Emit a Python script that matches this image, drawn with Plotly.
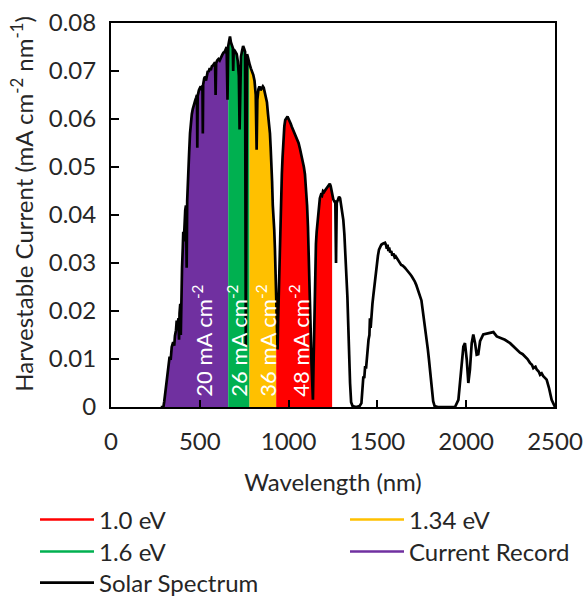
import numpy as np
import plotly.graph_objects as go

# Harvestable current from the AM1.5G solar spectrum (mA cm^-2 nm^-1)
wavelength_nm = [
    280, 295, 300, 305, 313, 318, 323, 330, 336, 342, 350, 356, 360, 366, 370, 375,
    380, 383, 386, 390, 393, 395, 397, 400, 404, 407, 410, 414, 418, 422, 426, 429,
    432, 436, 440, 445, 450, 455, 460, 465, 470, 475, 480, 484, 486, 488, 495, 500,
    505, 510, 515, 517, 519, 525, 530, 535, 540, 545, 550, 556, 562, 568, 575, 580,
    586, 589, 592, 598, 605, 612, 620, 627, 633, 640, 646, 651, 656, 660, 665, 670,
    675, 680, 686, 688, 691, 697, 702, 708, 714, 720, 724, 727, 732, 738, 744, 750,
    755, 759, 762, 766, 770, 776, 782, 788, 795, 801, 808, 815, 820, 824, 830, 836,
    842, 848, 855, 860, 866, 872, 878, 884, 890, 895, 899, 903, 907, 911, 915, 919,
    923, 927, 931, 935, 938, 941, 944, 947, 951, 955, 958, 962, 966, 971, 976, 981,
    988, 994, 1000, 1006, 1012, 1018, 1025, 1032, 1040, 1048, 1056, 1064, 1072, 1080,
    1086, 1092, 1098, 1104, 1109, 1113, 1117, 1121, 1125, 1129, 1133, 1137, 1140,
    1143, 1146, 1150, 1154, 1158, 1162, 1166, 1171, 1176, 1182, 1188, 1194, 1200,
    1207, 1214, 1220, 1226, 1232, 1237, 1242, 1247, 1252, 1258, 1263, 1267, 1271,
    1278, 1284, 1290, 1296, 1302, 1308, 1314, 1320, 1326, 1331, 1336, 1341, 1346,
    1352, 1360, 1380, 1400, 1410, 1416, 1421, 1426, 1431, 1436, 1441, 1446, 1450,
    1455, 1458, 1462, 1467, 1472, 1477, 1482, 1487, 1492, 1497, 1503, 1509, 1515,
    1522, 1530, 1537, 1543, 1548, 1553, 1557, 1562, 1566, 1572, 1578, 1584, 1590,
    1597, 1603, 1609, 1615, 1621, 1627, 1634, 1641, 1648, 1655, 1662, 1670, 1678,
    1686, 1694, 1702, 1710, 1718, 1726, 1734, 1742, 1748, 1754, 1760, 1766, 1772,
    1778, 1784, 1790, 1796, 1802, 1808, 1814, 1822, 1840, 1900, 1937, 1956, 1969,
    1984, 1993, 2003, 2012, 2021, 2031, 2040, 2050, 2059, 2068, 2078, 2096, 2124,
    2153, 2172, 2190, 2218, 2247, 2275, 2303, 2318, 2331, 2345, 2359, 2370, 2378,
    2390, 2397, 2408, 2416, 2425, 2434, 2445, 2453, 2466, 2481, 2500,
]
current = [
    0.0, 0.0, 0.0012, 0.0030, 0.0045, 0.0070, 0.0092, 0.0105, 0.0098, 0.0125, 0.0135,
    0.0128, 0.0148, 0.0160, 0.0180, 0.0172, 0.0185, 0.0140, 0.0195, 0.0215, 0.0150,
    0.0240, 0.0160, 0.0290, 0.0330, 0.0365, 0.0345, 0.0390, 0.0410, 0.0420, 0.0290,
    0.0430, 0.0470, 0.0500, 0.0530, 0.0570, 0.0595, 0.0610, 0.0620, 0.0628, 0.0630,
    0.0640, 0.0645, 0.0650, 0.0540, 0.0648, 0.0660, 0.0665, 0.0668, 0.0660, 0.0670,
    0.0570, 0.0672, 0.0685, 0.0688, 0.0680, 0.0695, 0.0700, 0.0698, 0.0706, 0.0702,
    0.0710, 0.0712, 0.0715, 0.0718, 0.0650, 0.0716, 0.0722, 0.0725, 0.0722, 0.0730,
    0.0734, 0.0738, 0.0740, 0.0745, 0.0750, 0.0640, 0.0752, 0.0762, 0.0772, 0.0760,
    0.0752, 0.0748, 0.0700, 0.0745, 0.0742, 0.0738, 0.0735, 0.0720, 0.0690, 0.0578,
    0.0700, 0.0730, 0.0742, 0.0752, 0.0746, 0.0740, 0.0126, 0.0700, 0.0735, 0.0730,
    0.0718, 0.0712, 0.0705, 0.0698, 0.0692, 0.0680, 0.0650, 0.0536, 0.0640, 0.0662,
    0.0668, 0.0660, 0.0665, 0.0668, 0.0665, 0.0655, 0.0645, 0.0635, 0.0610, 0.0590,
    0.0570, 0.0540, 0.0515, 0.0470, 0.0420, 0.0400, 0.0370, 0.0330, 0.0280, 0.0220,
    0.0160, 0.0120, 0.0180, 0.0230, 0.0280, 0.0334, 0.0390, 0.0440, 0.0485, 0.0520,
    0.0560, 0.0585, 0.0598, 0.0602, 0.0605, 0.0600, 0.0596, 0.0590, 0.0584, 0.0578,
    0.0572, 0.0565, 0.0558, 0.0550, 0.0538, 0.0525, 0.0510, 0.0500, 0.0485, 0.0460,
    0.0420, 0.0375, 0.0330, 0.0270, 0.0215, 0.0150, 0.0090, 0.0040, 0.0015, 0.0080,
    0.0160, 0.0230, 0.0300, 0.0340, 0.0365, 0.0385, 0.0400, 0.0420, 0.0435, 0.0442,
    0.0440, 0.0450, 0.0448, 0.0452, 0.0455, 0.0458, 0.0462, 0.0465, 0.0460, 0.0450,
    0.0440, 0.0432, 0.0428, 0.0430, 0.0300, 0.0425, 0.0432, 0.0438, 0.0435, 0.0420,
    0.0405, 0.0390, 0.0360, 0.0320, 0.0290, 0.0230, 0.0170, 0.0100, 0.0050, 0.0010,
    0.0002, 0.0, 0.0002, 0.0008, 0.0035, 0.0064, 0.0060, 0.0085, 0.0080, 0.0110,
    0.0120, 0.0140, 0.0150, 0.0185, 0.0165, 0.0200, 0.0215, 0.0232, 0.0250, 0.0265,
    0.0282, 0.0300, 0.0315, 0.0328, 0.0334, 0.0338, 0.0340, 0.0342, 0.0342, 0.0338,
    0.0330, 0.0338, 0.0325, 0.0332, 0.0322, 0.0325, 0.0315, 0.0320, 0.0312, 0.0314,
    0.0310, 0.0306, 0.0302, 0.0300, 0.0296, 0.0295, 0.0293, 0.0290, 0.0287, 0.0284,
    0.0280, 0.0276, 0.0272, 0.0268, 0.0262, 0.0255, 0.0247, 0.0238, 0.0230, 0.0222,
    0.0205, 0.0190, 0.0172, 0.0155, 0.0138, 0.0120, 0.0100, 0.0078, 0.0055, 0.0030,
    0.0012, 0.0002, 0.0, 0.0, 0.0, 0.0015, 0.0071, 0.0126, 0.0133, 0.0099, 0.0050,
    0.0078, 0.0133, 0.0151, 0.0133, 0.0109, 0.0110, 0.0137, 0.0151, 0.0154, 0.0156,
    0.0147, 0.0144, 0.0140, 0.0133, 0.0123, 0.0113, 0.0110, 0.0106, 0.0100, 0.0092,
    0.0088, 0.0081, 0.0084, 0.0078, 0.0074, 0.0067, 0.0070, 0.0064, 0.0060, 0.0057,
    0.0040, 0.0015, 0.0,
]

# Absorber bands: short- and long-wavelength edges and colours
band_names = ["Current Record", "1.6 eV", "1.34 eV", "1.0 eV"]
band_lo = [280, 660, 780, 930]
band_hi = [660, 780, 930, 1245]
band_colors = ["#7030A0", "#00B050", "#FFC000", "#FF0000"]

# In-band current labels
label_text = ["20 mA cm<sup>-2</sup>", "26 mA cm<sup>-2</sup>",
              "36 mA cm<sup>-2</sup>", "48 mA cm<sup>-2</sup>"]
label_x = [518, 715, 878, 1064]

# Legend entries in reading order (two columns, three rows)
legend_names = ["1.0 eV", "1.34 eV", "1.6 eV", "Current Record", "Solar Spectrum"]
legend_colors = ["#FF0000", "#FFC000", "#00B050", "#7030A0", "black"]
legend_col = [0, 1, 0, 1, 0]
legend_row = [0, 0, 1, 1, 2]

FONT = "Lato, 'Liberation Sans', sans-serif"
TEXT = "#262626"
SIZE = 24

wl = np.array(wavelength_nm, dtype=float)
cur = np.array(current, dtype=float)

fig = go.Figure()

# Filled bands under the spectrum
for name, lo, hi, col in zip(band_names, band_lo, band_hi, band_colors):
    inner = (wl > lo) & (wl < hi)
    bx = np.concatenate([[lo], wl[inner], [hi]])
    by = np.concatenate([[np.interp(lo, wl, cur)], cur[inner], [np.interp(hi, wl, cur)]])
    fig.add_trace(go.Scatter(
        x=bx, y=by, mode="lines", fill="tozeroy", fillcolor=col,
        line=dict(width=0, color=col), showlegend=False, hoverinfo="skip",
    ))

# Legend keys: one small legend per entry so the grid can be placed freely
col_x = [35, 345]
row_y = [520, 552, 583]
legend_layout = {}
for i, (name, colr, c, r) in enumerate(zip(legend_names, legend_colors,
                                            legend_col, legend_row)):
    key = "legend" if i == 0 else f"legend{i + 1}"
    legend_layout[key] = dict(
        xref="container", yref="container", x=col_x[c] / 586, y=1 - row_y[r] / 597,
        xanchor="left", yanchor="middle", orientation="v", itemwidth=54,
        bgcolor="rgba(0,0,0,0)", borderwidth=0,
        font=dict(family=FONT, size=SIZE, color=TEXT),
        itemclick=False, itemdoubleclick=False,
    )
    if name == "Solar Spectrum":
        continue
    fig.add_trace(go.Scatter(x=[None], y=[None], mode="lines", name=name,
                             line=dict(color=colr, width=2.5), legend=key))

# Solar spectrum line
fig.add_trace(go.Scatter(
    x=wl, y=cur, mode="lines", name="Solar Spectrum",
    line=dict(color="black", width=2.7), legend="legend5",
))

for txt, x in zip(label_text, label_x):
    fig.add_annotation(
        x=x, y=0.0138, xref="x", yref="y", text=txt, textangle=-90,
        showarrow=False, xanchor="center", yanchor="middle",
        font=dict(family=FONT, size=22, color="white"),
    )

# Y-axis title
fig.add_annotation(
    x=(22 - 111) / 444, y=0.527, xref="paper", yref="paper",
    text="Harvestable Current (mA cm<sup>-2</sup> nm<sup>-1</sup>)", textangle=-90,
    showarrow=False, xanchor="center", yanchor="middle",
    font=dict(family=FONT, size=SIZE, color=TEXT),
)

fig.update_layout(
    width=586, height=597,
    margin=dict(l=111, r=31, t=23, b=190, autoexpand=False),
    paper_bgcolor="white", plot_bgcolor="white",
    font=dict(family=FONT, size=SIZE, color=TEXT),
    xaxis=dict(
        range=[0, 2500], tickvals=[0, 500, 1000, 1500, 2000, 2500],
        ticks="inside", ticklen=7, tickwidth=1.5, tickcolor="black",
        showline=True, linecolor="black", linewidth=2, mirror=True,
        showgrid=False, zeroline=False, ticklabelstandoff=12, automargin=False,
        tickfont=dict(family=FONT, size=SIZE, color=TEXT),
        title=dict(text="Wavelength (nm)", standoff=20,
                   font=dict(family=FONT, size=SIZE, color=TEXT)),
    ),
    yaxis=dict(
        range=[0, 0.08], dtick=0.01,
        ticks="inside", ticklen=8, tickwidth=1.5, tickcolor="black",
        showline=True, linecolor="black", linewidth=2, mirror=True,
        showgrid=False, zeroline=False, ticklabelstandoff=8, automargin=False,
        tickfont=dict(family=FONT, size=SIZE, color=TEXT),
    ),
    **legend_layout,
)

fig.write_html("out.html")
